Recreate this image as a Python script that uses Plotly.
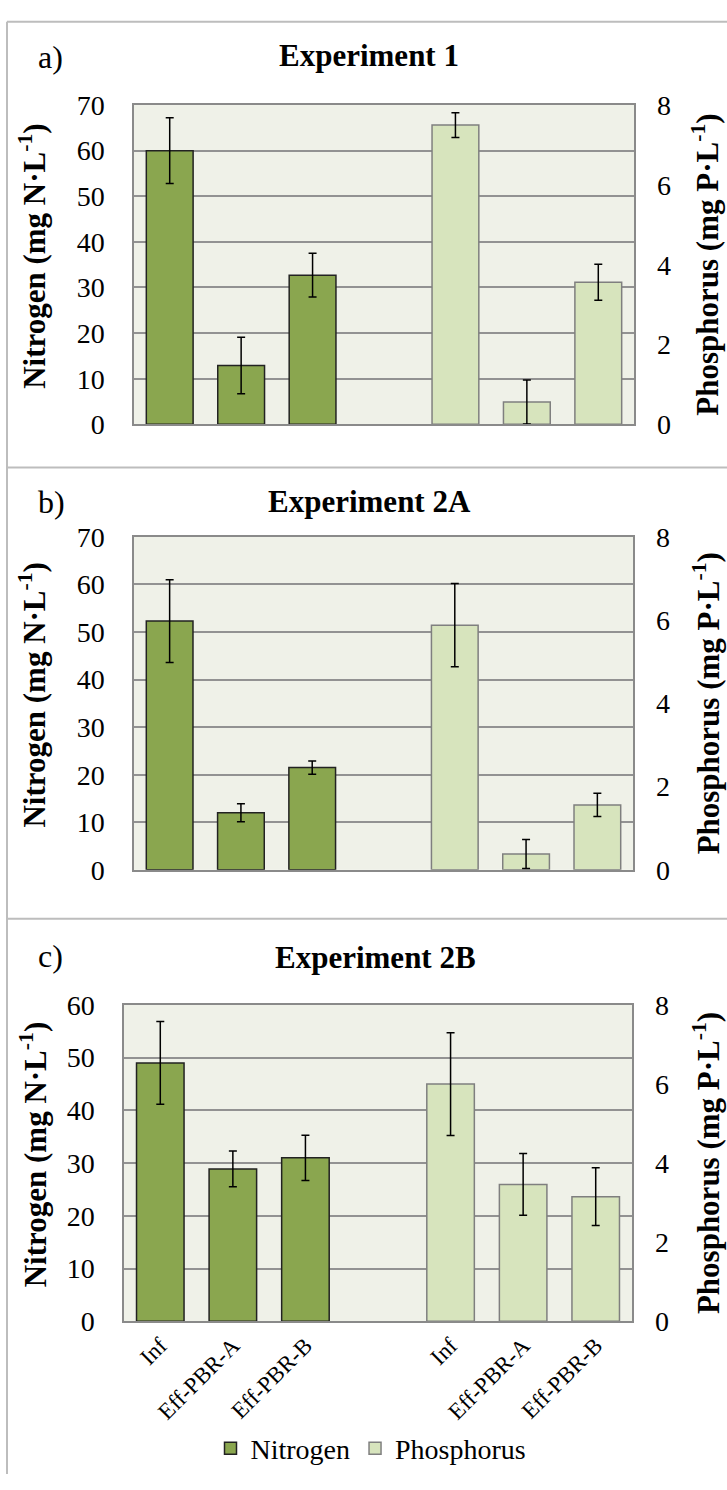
import plotly.graph_objects as go

# ---------------- data ----------------
categories = ["Inf", "Eff-PBR-A", "Eff-PBR-B"]
panel_labels = ["a)", "b)", "c)"]
panel_titles = ["Experiment 1", "Experiment 2A", "Experiment 2B"]

nitrogen_exp1 = [60.0, 12.9, 32.7]
nitrogen_exp1_err = [7.2, 6.2, 4.8]
phosphorus_exp1 = [7.50, 0.56, 3.56]
phosphorus_exp1_err = [0.31, 0.55, 0.45]

nitrogen_exp2a = [52.3, 12.0, 21.5]
nitrogen_exp2a_err = [8.7, 1.9, 1.4]
phosphorus_exp2a = [5.88, 0.38, 1.56]
phosphorus_exp2a_err = [1.0, 0.35, 0.28]

nitrogen_exp2b = [49.0, 28.9, 31.0]
nitrogen_exp2b_err = [7.85, 3.4, 4.3]
phosphorus_exp2b = [6.00, 3.46, 3.15]
phosphorus_exp2b_err = [1.3, 0.78, 0.73]

nitrogen_axis_max = [70, 70, 60]
phosphorus_axis_max = [8, 8, 8]

n_title = "<b>Nitrogen (mg N·L<sup>-1</sup>)</b>"
p_title = "<b>Phosphorus (mg P·L<sup>-1</sup>)</b>"

# ---------------- layout geometry (pixels) ----------------
W, H = 727, 1490
def fx(px):
    return px / W
def fy(py):
    return 1 - py / H

boxes = [(134, 634, 92, 418), (134, 633, 533, 873), (124, 632, 1011, 1334)]
label_y = [43, 497, 961]
title_y = [41, 497, 963]
title_x = [369, 370, 375]

SERIF = "Liberation Serif, Times New Roman, serif"
N_COLOR = "#8AA64F"
P_COLOR = "#D7E4BD"

n_data = [(nitrogen_exp1, nitrogen_exp1_err), (nitrogen_exp2a, nitrogen_exp2a_err), (nitrogen_exp2b, nitrogen_exp2b_err)]
p_data = [(phosphorus_exp1, phosphorus_exp1_err), (phosphorus_exp2a, phosphorus_exp2a_err), (phosphorus_exp2b, phosphorus_exp2b_err)]

n_keys = ["N " + c for c in categories]
p_keys = ["P " + c for c in categories]
cat_order = n_keys + [" "] + p_keys

fig = go.Figure()
layout = dict(
    width=W, height=H,
    margin=dict(l=0, r=0, t=0, b=0),
    paper_bgcolor="white",
    plot_bgcolor="#EFF1E8",
    font=dict(family=SERIF, color="black"),
    bargap=0.35,
    showlegend=True,
    legend=dict(orientation="h", x=fx(371), y=fy(1464), xanchor="center", yanchor="middle",
                font=dict(family=SERIF, size=28, color="black"),
                bgcolor="rgba(0,0,0,0)", traceorder="normal"),
)
annotations = []
shapes = []

for i in range(3):
    x0, x1, y0, y1 = boxes[i]
    xname = "xaxis" if i == 0 else f"xaxis{i+1}"
    xref = "x" if i == 0 else f"x{i+1}"
    yn_idx = 2 * i + 1
    yp_idx = 2 * i + 2
    ynname = "yaxis" if yn_idx == 1 else f"yaxis{yn_idx}"
    yn_ref = "y" if yn_idx == 1 else f"y{yn_idx}"
    ypname = f"yaxis{yp_idx}"
    yp_ref = f"y{yp_idx}"

    nv, ne = n_data[i]
    pv, pe = p_data[i]
    fig.add_trace(go.Bar(
        x=n_keys, y=nv, name="Nitrogen", xaxis=xref, yaxis=yn_ref, width=0.655,
        marker=dict(color=N_COLOR, line=dict(color="#222222", width=1.5)),
        error_y=dict(type="data", array=ne, color="black", thickness=1.5, width=4),
        showlegend=(i == 2),
    ))
    fig.add_trace(go.Bar(
        x=p_keys, y=pv, name="Phosphorus", xaxis=xref, yaxis=yp_ref, width=0.655,
        marker=dict(color=P_COLOR, line=dict(color="#7F7F7F", width=1.5)),
        error_y=dict(type="data", array=pe, color="black", thickness=1.5, width=4),
        showlegend=(i == 2),
    ))

    show_x = (i == 2)
    layout[xname] = dict(
        domain=[fx(x0), fx(x1)], anchor=yn_ref, type="category",
        categoryorder="array", categoryarray=cat_order, range=[-0.5, 6.5],
        tickvals=(n_keys + p_keys) if show_x else [],
        ticktext=(categories + categories) if show_x else [],
        showticklabels=show_x, tickangle=-45, ticks="",
        tickfont=dict(family=SERIF, size=23, color="black"),
        showline=True, mirror=True, linecolor="#8A8A8A", linewidth=1.5,
        showgrid=False, zeroline=False, fixedrange=True,
    )
    layout[ynname] = dict(
        domain=[fy(y1), fy(y0)], anchor=xref, range=[0, nitrogen_axis_max[i]], dtick=10,
        showgrid=True, gridcolor="#929292", gridwidth=1.5, zeroline=False,
        showline=True, mirror=True, linecolor="#8A8A8A", linewidth=1.5,
        ticks="", ticklabelstandoff=22,
        tickfont=dict(family=SERIF, size=28, color="black"),
    )
    layout[ypname] = dict(
        overlaying=yn_ref, side="right", anchor=xref, range=[0, phosphorus_axis_max[i]], dtick=2,
        showgrid=False, zeroline=False, showline=False, ticks="", ticklabelstandoff=22,
        tickfont=dict(family=SERIF, size=28, color="black"),
    )

    annotations.append(dict(text=panel_labels[i], x=fx(36), y=fy(label_y[i]), xref="paper", yref="paper",
                            xanchor="left", yanchor="middle", showarrow=False,
                            font=dict(family=SERIF, size=32, color="black")))
    annotations.append(dict(text="<b>" + panel_titles[i] + "</b>", x=fx(title_x[i]), y=fy(title_y[i]),
                            xref="paper", yref="paper", xanchor="center", yanchor="middle", showarrow=False,
                            font=dict(family=SERIF, size=31, color="black")))
    ymid = (y0 + y1) / 2 - 8
    annotations.append(dict(text=n_title, x=fx(33), y=fy(ymid), xref="paper", yref="paper",
                            xanchor="center", yanchor="middle", textangle=-90, showarrow=False,
                            font=dict(family=SERIF, size=31, color="black")))
    annotations.append(dict(text=p_title, x=fx(706), y=fy((y0 + y1) / 2), xref="paper", yref="paper",
                            xanchor="center", yanchor="middle", textangle=-90, showarrow=False,
                            font=dict(family=SERIF, size=31, color="black")))

# panel frame lines
frame = dict(color="#BDBDBD", width=2)
shapes.append(dict(type="line", xref="paper", yref="paper", x0=fx(7), x1=1, y0=fy(7), y1=fy(7), line=frame))
shapes.append(dict(type="line", xref="paper", yref="paper", x0=fx(7), x1=fx(7), y0=fy(7), y1=0, line=frame))
for yy in (462, 923):
    shapes.append(dict(type="line", xref="paper", yref="paper", x0=fx(7), x1=1, y0=fy(yy), y1=fy(yy), line=frame))

layout["annotations"] = annotations
layout["shapes"] = shapes
fig.update_layout(**layout)
fig.write_html("out.html", config={"displayModeBar": False},
               post_script="document.body.style.margin='0px';")
